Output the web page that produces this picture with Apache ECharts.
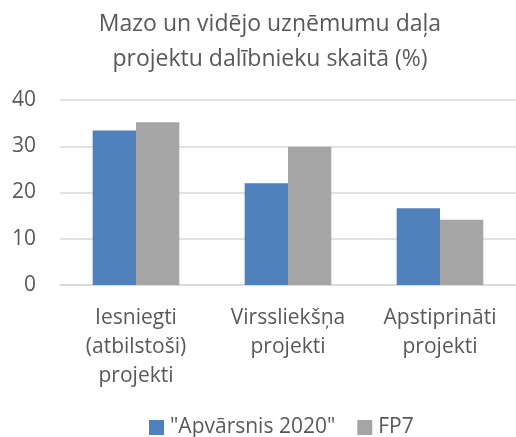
<!DOCTYPE html>
<html>
<head>
<meta charset="utf-8">
<script src="https://cdn.jsdelivr.net/npm/echarts@6/dist/echarts.min.js"></script>
<style>
  html, body { margin: 0; padding: 0; background: #fff; }
  #chart { width: 516px; height: 437px; }
</style>
</head>
<body>
<div id="chart"></div>
<script>
const categories = ['Iesniegti\n(atbilstoši)\nprojekti', 'Virssliekšņa\nprojekti', 'Apstiprināti\nprojekti'];
const seriesNames = ['"Apvārsnis 2020"', 'FP7'];
const h2020Values = [33.4, 22.0, 16.6];
const fp7Values = [35.2, 29.9, 14.1];
const yTicks = [0, 10, 20, 30, 40];

const chart = echarts.init(document.getElementById('chart'));
const font = "'Open Sans', sans-serif";
const textColor = '#595959';

chart.setOption({
  animation: false,
  title: {
    text: 'Mazo un vidējo uzņēmumu daļa\nprojektu dalībnieku skaitā (%)',
    left: 265,
    textAlign: 'center',
    top: 2,
    textStyle: { fontFamily: font, fontSize: 23, fontWeight: 'normal', color: textColor, lineHeight: 35 }
  },
  legend: {
    bottom: -6,
    left: 144,
    itemWidth: 15,
    itemHeight: 15,
    itemGap: 22,
    icon: 'rect',
    textStyle: { fontFamily: font, fontSize: 21, color: textColor, padding: [0, 0, 0, 1] },
    data: seriesNames
  },
  grid: { left: 60, right: -8, top: 100, bottom: 152 },
  xAxis: {
    type: 'category',
    data: categories,
    axisLine: { lineStyle: { color: '#d9d9d9', width: 1.5 } },
    axisTick: { show: false },
    axisLabel: { fontFamily: font, fontSize: 21, color: textColor, lineHeight: 29, margin: 19, interval: 0 }
  },
  yAxis: {
    type: 'value',
    min: yTicks[0],
    max: yTicks[yTicks.length - 1],
    interval: 10,
    axisLine: { show: false },
    axisTick: { show: false },
    splitLine: { lineStyle: { color: '#d9d9d9', width: 1.5 } },
    axisLabel: { fontFamily: font, fontSize: 21, color: textColor, margin: 24 }
  },
  series: [
    {
      name: seriesNames[0],
      type: 'bar',
      data: h2020Values,
      barGap: '0%',
      barCategoryGap: '43%',
      itemStyle: { color: '#4f81bd' }
    },
    {
      name: seriesNames[1],
      type: 'bar',
      data: fp7Values,
      itemStyle: { color: '#a5a5a5' }
    }
  ]
});
</script>
</body>
</html>
